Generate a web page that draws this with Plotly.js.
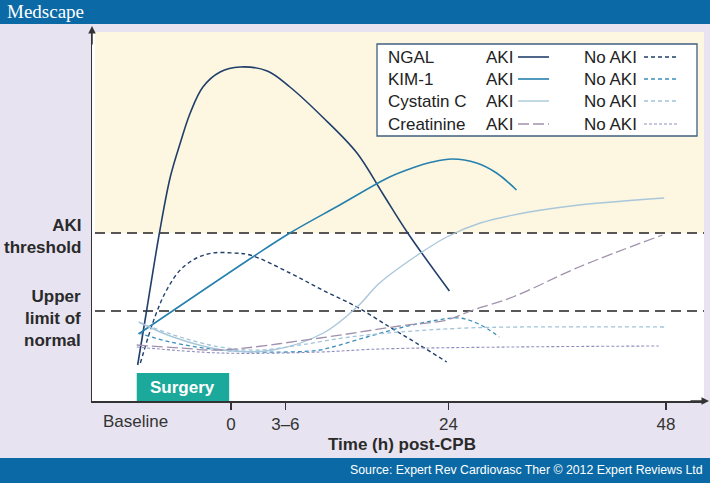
<!DOCTYPE html>
<html>
<head>
<meta charset="utf-8">
<script src="https://cdn.plot.ly/plotly-3.0.1.min.js"></script>
<style>
  html, body { margin: 0; padding: 0; background: #e7e3f0; }
  #chart { width: 710px; height: 483px; }
</style>
</head>
<body>
<div id="chart"></div>
<script>
// ---------- DATA (time in hours post-CPB, level in arbitrary units) ----------
const ngalAkiX   = [-10.3, -9.3, -7.9, -6.7, -5.6, -4.5, -3.1, -1.2, 1.0, 4.0, 6.5, 10.1, 13.9, 16.7, 19.5, 24.1];
const ngalAkiY   = [36, 91, 168, 224, 258, 288, 314, 329, 334, 330, 314, 284, 248, 208, 168, 110];
const ngalNoX    = [-10.0, -8.4, -7.1, -5.6, -3.8, -2.0, 0.2, 2.1, 6.5, 10.1, 13.9, 17.5, 20.8, 23.8];
const ngalNoY    = [38, 84, 111, 131, 143, 148, 148, 146, 128, 111, 94, 74, 56, 39];
const kimAkiX    = [-10.2, 2.4, 6.5, 12.0, 17.5, 20.0, 22.2, 24.4, 27.1, 29.3, 31.5];
const kimAkiY    = [67, 144, 168, 196, 224, 233, 239, 242, 238, 228, 211];
const kimNoX     = [-10.2, -6.7, -1.2, 6.2, 9.8, 11.2, 15.0, 18.6, 22.2, 25.2, 27.1, 28.5, 29.6];
const kimNoY     = [68, 59, 51, 49, 51, 54, 64, 73, 80, 83, 78, 71, 64];
const cysAkiX    = [-10.2, -6.4, -0.9, 4.6, 10.2, 13.9, 16.4, 20.1, 23.8, 27.5, 32.9, 38.4, 47.8];
const cysAkiY    = [79, 64, 51, 51, 68, 94, 118, 143, 164, 178, 189, 196, 203];
const cysNoX     = [-10.0, -5.6, -1.2, 3.2, 7.6, 13.1, 18.6, 26.0, 31.8, 48.0];
const cysNoY     = [78, 64, 54, 51, 56, 64, 69, 73, 74, 74];
const creAkiX    = [-10.4, -5.6, -1.2, 9.8, 18.6, 23.8, 26.7, 31.1, 38.4, 47.6];
const creAkiY    = [56, 53, 51, 63, 75, 81, 91, 104, 134, 166];
const creNoX     = [-10.4, -1.2, 9.8, 16.4, 31.1, 47.2];
const creNoY     = [54, 48, 49, 52, 54, 55];

const thresholdLevels = [168, 90];              // AKI threshold, upper limit of normal
const thresholdLabels = ['AKI<br>threshold', 'Upper<br>limit of<br>normal'];
const tickVals  = [0, 6, 24, 48];
const tickText  = ['0', '3–6', '24', '48'];
const baselineX = -10.5;
const surgeryStart = -10.4, surgeryEnd = -0.2;
const markers   = ['NGAL', 'KIM-1', 'Cystatin C', 'Creatinine'];

// ---------- STYLE ----------
const C_NGAL = '#213f6b', C_KIM = '#2680ae', C_CYS = '#a9c7da', C_CRE = '#a091ad', C_CRE_NO = '#8f8fbf';
const styles = [
  {solid: {color: C_NGAL, width: 1.6, dash: 'solid'}, no: {color: C_NGAL, width: 1.4, dash: '4px,3px'}},
  {solid: {color: C_KIM,  width: 1.6, dash: 'solid'}, no: {color: '#3b8fbb', width: 1.3, dash: '4px,3px'}},
  {solid: {color: C_CYS,  width: 1.4, dash: 'solid'}, no: {color: '#a3c3da', width: 1.3, dash: '4px,3px'}},
  {solid: {color: C_CRE,  width: 1.3, dash: '11px,4px'}, no: {color: C_CRE_NO, width: 1.1, dash: '3px,2px'}}
];
const series = [
  [ngalAkiX, ngalAkiY, ngalNoX, ngalNoY],
  [kimAkiX, kimAkiY, kimNoX, kimNoY],
  [cysAkiX, cysAkiY, cysNoX, cysNoY],
  [creAkiX, creAkiY, creNoX, creNoY]
];

const W = 710, H = 483, L = 92, R = 6, T = 32, B = 82;
const pw = W - L - R, ph = H - T - B;
const px = p => (p - L) / pw;        // pixel x -> paper
const py = p => (H - B - p) / ph;    // pixel y -> paper
const FONT = 'Arial, "Liberation Sans", sans-serif';

const traces = [];
series.forEach((s, i) => {
  traces.push({x: s[0], y: s[1], mode: 'lines', line: Object.assign({shape: 'spline', smoothing: 1}, styles[i].solid), hoverinfo: 'skip', showlegend: false});
  traces.push({x: s[2], y: s[3], mode: 'lines', line: Object.assign({shape: 'spline', smoothing: 1}, styles[i].no), hoverinfo: 'skip', showlegend: false});
});

const shapes = [
  {type: 'rect', xref: 'paper', yref: 'paper', x0: px(0), x1: px(W), y0: py(0), y1: py(24), fillcolor: '#0b6aa6', line: {width: 0}, layer: 'below'},
  {type: 'rect', xref: 'paper', yref: 'paper', x0: px(0), x1: px(W), y0: py(458), y1: py(H), fillcolor: '#0b6aa6', line: {width: 0}, layer: 'below'},
  {type: 'rect', xref: 'paper', yref: 'y', x0: px(95), x1: 1, y0: thresholdLevels[0], y1: 369, fillcolor: '#fdf7e1', line: {width: 0}, layer: 'below'},
  {type: 'rect', xref: 'x', yref: 'y', x0: surgeryStart, x1: surgeryEnd, y0: 0, y1: 28, fillcolor: '#1aa99a', line: {width: 0}, layer: 'below'},
  {type: 'rect', xref: 'paper', yref: 'paper', x0: px(377), x1: px(697), y0: py(44), y1: py(136), fillcolor: '#ffffff', line: {color: '#3f5f7f', width: 1.3}, layer: 'above'}
];
thresholdLevels.forEach(v => shapes.push({type: 'line', xref: 'paper', yref: 'y', x0: px(95), x1: 1, y0: v, y1: v, line: {color: '#222', width: 1.4, dash: '10px,6px'}, layer: 'below'}));

const annotations = [
  {xref: 'paper', yref: 'paper', x: px(5), y: py(12), xanchor: 'left', yanchor: 'middle', showarrow: false, text: 'Medscape', font: {family: '"Liberation Serif", "Times New Roman", serif', size: 19, color: '#ffffff'}},
  {xref: 'paper', yref: 'paper', x: px(705), y: py(470), xanchor: 'right', yanchor: 'middle', showarrow: false, text: 'Source: Expert Rev Cardiovasc Ther © 2012 Expert Reviews Ltd', font: {family: FONT, size: 12.3, color: '#ffffff'}},
  {xref: 'paper', yref: 'paper', x: px(402), y: py(444), xanchor: 'center', yanchor: 'middle', showarrow: false, text: '<b>Time (h) post-CPB</b>', font: {family: FONT, size: 17, color: '#2a2a2a'}},
  {xref: 'x', yref: 'paper', x: baselineX, y: py(421), xanchor: 'center', yanchor: 'middle', showarrow: false, text: 'Baseline', font: {family: FONT, size: 17, color: '#333'}},
  {xref: 'x', yref: 'y', x: (surgeryStart + surgeryEnd) / 2, y: 14, xanchor: 'center', yanchor: 'middle', showarrow: false, text: '<b>Surgery</b>', font: {family: FONT, size: 17, color: '#ffffff'}},
  {xref: 'paper', yref: 'paper', x: 0, y: py(26), ax: 0, ay: 20, showarrow: true, arrowhead: 2, arrowsize: 1, arrowwidth: 1.5, arrowcolor: '#333', text: ''},
  {xref: 'paper', yref: 'paper', x: px(709), y: 0, ax: -20, ay: 0, showarrow: true, arrowhead: 2, arrowsize: 1, arrowwidth: 1.5, arrowcolor: '#333', text: ''}
];
thresholdLabels.forEach((t, i) => annotations.push({xref: 'paper', yref: 'y', x: px(83), y: thresholdLevels[i] - (i === 0 ? 3 : 7), xanchor: 'right', yanchor: 'middle', align: 'right', showarrow: false, text: '<b>' + t + '</b>', font: {family: FONT, size: 17, color: '#2a2a2a'}}));

const rowY = [57, 79, 101, 124];
markers.forEach((m, i) => {
  const y = py(rowY[i]);
  annotations.push({xref: 'paper', yref: 'paper', x: px(386), y: y, xanchor: 'left', yanchor: 'middle', showarrow: false, text: m, font: {family: FONT, size: 17, color: '#222'}});
  annotations.push({xref: 'paper', yref: 'paper', x: px(484), y: y, xanchor: 'left', yanchor: 'middle', showarrow: false, text: 'AKI', font: {family: FONT, size: 17, color: '#222'}});
  annotations.push({xref: 'paper', yref: 'paper', x: px(582), y: y, xanchor: 'left', yanchor: 'middle', showarrow: false, text: 'No AKI', font: {family: FONT, size: 17, color: '#222'}});
  shapes.push({type: 'line', xref: 'paper', yref: 'paper', x0: px(518), x1: px(549), y0: y, y1: y, line: styles[i].solid, layer: 'above'});
  shapes.push({type: 'line', xref: 'paper', yref: 'paper', x0: px(644), x1: px(679), y0: y, y1: y, line: styles[i].no, layer: 'above'});
});

const layout = {
  width: W, height: H,
  margin: {l: L, r: R, t: T, b: B, pad: 0},
  paper_bgcolor: '#e7e3f0',
  plot_bgcolor: '#ffffff',
  showlegend: false,
  font: {family: FONT, color: '#333'},
  xaxis: {
    range: [(L - 231) / 9.0625, (W - R - 231) / 9.0625],
    tickvals: tickVals, ticktext: tickText,
    ticks: 'outside', ticklen: 7, tickwidth: 1.2, tickcolor: '#333',
    tickfont: {family: FONT, size: 17, color: '#333'},
    showline: true, linecolor: '#333', linewidth: 1.5,
    showgrid: false, zeroline: false, fixedrange: true
  },
  yaxis: {
    range: [0, 369],
    showticklabels: false, ticks: '',
    showline: true, linecolor: '#333', linewidth: 1.5,
    showgrid: false, zeroline: false, fixedrange: true
  },
  shapes: shapes,
  annotations: annotations
};

Plotly.newPlot('chart', traces, layout, {displayModeBar: false, staticPlot: true});
</script>
</body>
</html>
